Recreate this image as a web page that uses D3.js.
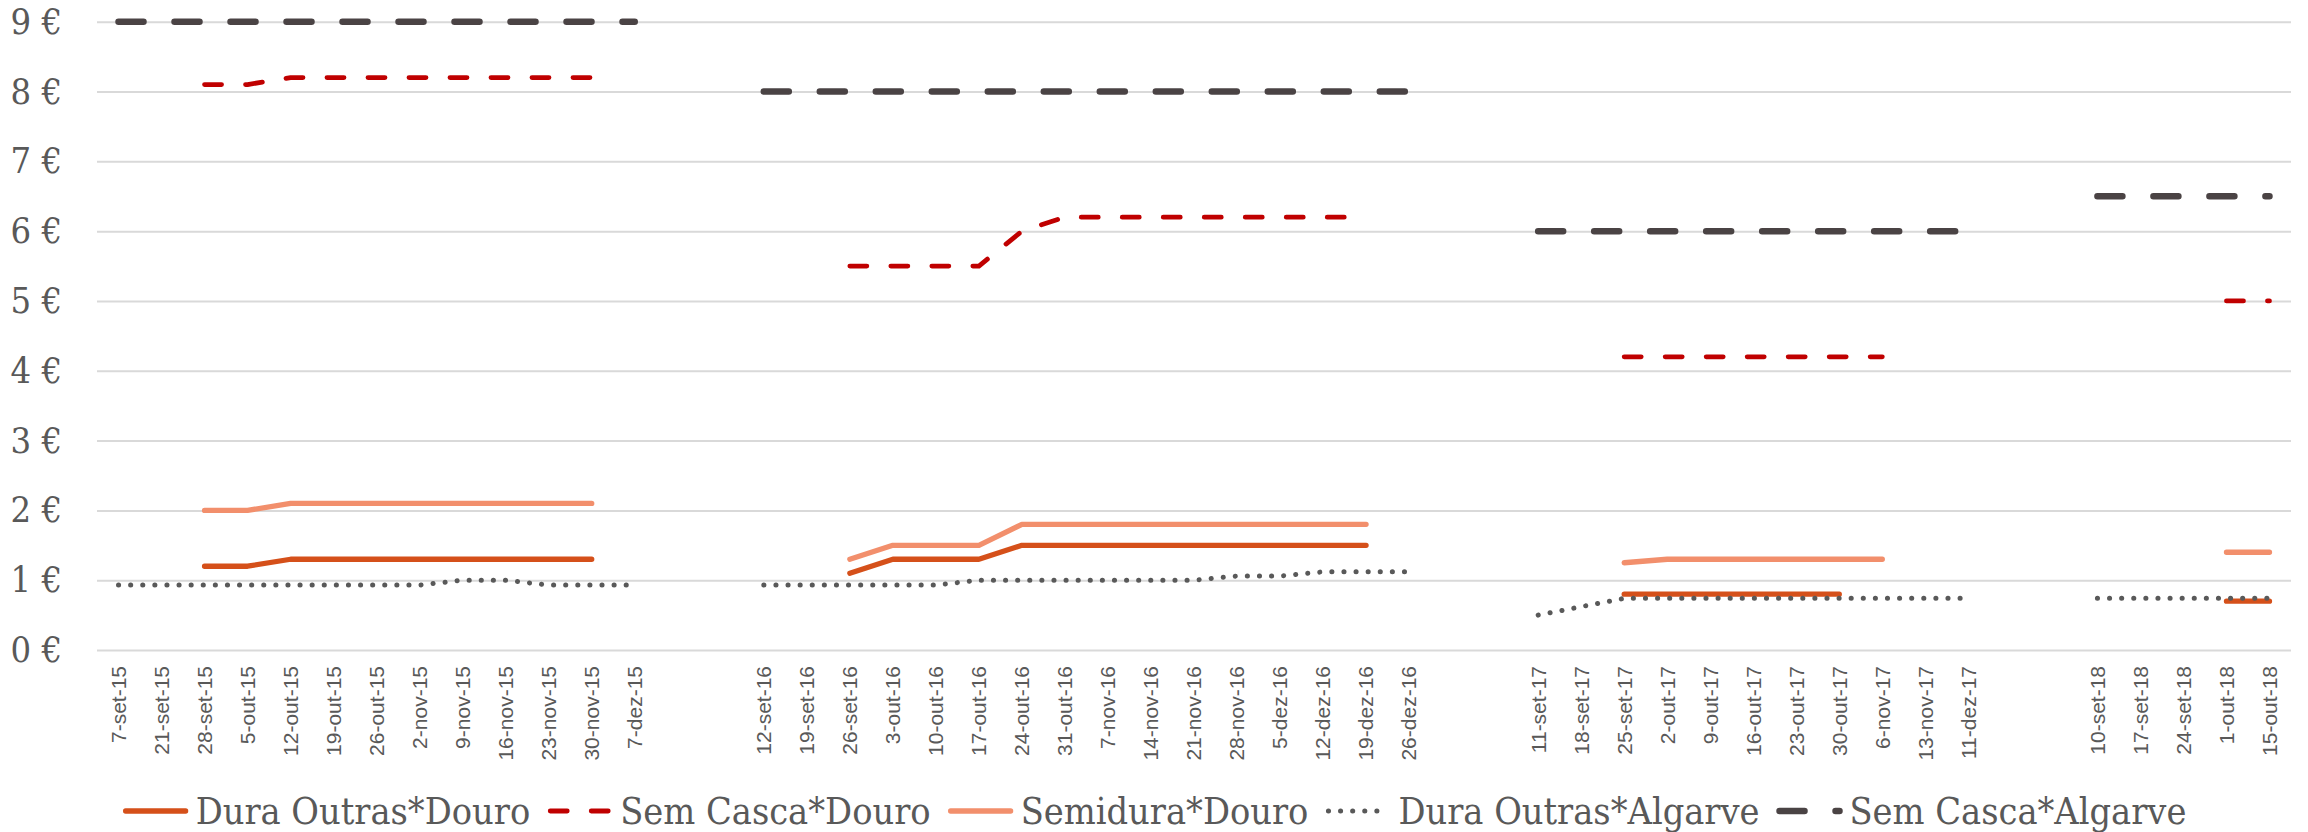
<!DOCTYPE html>
<html>
<head>
<meta charset="utf-8">
<script src="https://cdnjs.cloudflare.com/ajax/libs/d3/7.8.5/d3.min.js"></script>
<style>
    body { margin: 0; background: #fff; }
    .y-axis text, .legend text { font-family: "DejaVu Serif Condensed", "DejaVu Serif", serif; fill: #595959; }
    .x-axis text { font-family: "Liberation Sans", Arial, sans-serif; fill: #595959; }
</style>
</head>
<body>
<div id="chart"></div>
<script>

// weekly categories, "" = empty slots between seasons
var weeks = [
    "7-set-15", "21-set-15", "28-set-15", "5-out-15", "12-out-15", "19-out-15", "26-out-15",
    "2-nov-15", "9-nov-15", "16-nov-15", "23-nov-15", "30-nov-15", "7-dez-15",
    "", "",
    "12-set-16", "19-set-16", "26-set-16", "3-out-16", "10-out-16", "17-out-16", "24-out-16",
    "31-out-16", "7-nov-16", "14-nov-16", "21-nov-16", "28-nov-16", "5-dez-16", "12-dez-16",
    "19-dez-16", "26-dez-16",
    "", "",
    "11-set-17", "18-set-17", "25-set-17", "2-out-17", "9-out-17", "16-out-17", "23-out-17",
    "30-out-17", "6-nov-17", "13-nov-17", "11-dez-17",
    "", "",
    "10-set-18", "17-set-18", "24-set-18", "1-out-18", "15-out-18"
];

var dura_outras_douro = [
    null, null, 1.2, 1.2, 1.3, 1.3, 1.3, 1.3, 1.3, 1.3, 1.3, 1.3, null,
    null, null,
    null, null, 1.1, 1.3, 1.3, 1.3, 1.5, 1.5, 1.5, 1.5, 1.5, 1.5, 1.5, 1.5, 1.5, null,
    null, null,
    null, null, 0.8, 0.8, 0.8, 0.8, 0.8, 0.8, null, null, null,
    null, null,
    null, null, null, 0.7, 0.7
];

var sem_casca_douro = [
    null, null, 8.1, 8.1, 8.2, 8.2, 8.2, 8.2, 8.2, 8.2, 8.2, 8.2, null,
    null, null,
    null, null, 5.5, 5.5, 5.5, 5.5, 6.0, 6.2, 6.2, 6.2, 6.2, 6.2, 6.2, 6.2, 6.2, null,
    null, null,
    null, null, 4.2, 4.2, 4.2, 4.2, 4.2, 4.2, 4.2, null, null,
    null, null,
    null, null, null, 5.0, 5.0
];

var semidura_douro = [
    null, null, 2.0, 2.0, 2.1, 2.1, 2.1, 2.1, 2.1, 2.1, 2.1, 2.1, null,
    null, null,
    null, null, 1.3, 1.5, 1.5, 1.5, 1.8, 1.8, 1.8, 1.8, 1.8, 1.8, 1.8, 1.8, 1.8, null,
    null, null,
    null, null, 1.25, 1.3, 1.3, 1.3, 1.3, 1.3, 1.3, null, null,
    null, null,
    null, null, null, 1.4, 1.4
];

var dura_outras_algarve = [
    0.93, 0.93, 0.93, 0.93, 0.93, 0.93, 0.93, 0.93, 1.0, 1.0, 0.93, 0.93, 0.93,
    null, null,
    0.93, 0.93, 0.93, 0.93, 0.93, 1.0, 1.0, 1.0, 1.0, 1.0, 1.0, 1.06, 1.06, 1.12, 1.12, 1.12,
    null, null,
    0.5, 0.62, 0.74, 0.74, 0.74, 0.74, 0.74, 0.74, 0.74, 0.74, 0.74,
    null, null,
    0.74, 0.74, 0.74, 0.74, 0.74
];

var sem_casca_algarve = [
    9, 9, 9, 9, 9, 9, 9, 9, 9, 9, 9, 9, 9,
    null, null,
    8, 8, 8, 8, 8, 8, 8, 8, 8, 8, 8, 8, 8, 8, 8, 8,
    null, null,
    6, 6, 6, 6, 6, 6, 6, 6, 6, 6, 6,
    null, null,
    6.5, 6.5, 6.5, 6.5, 6.5
];

var y_ticks = [0, 1, 2, 3, 4, 5, 6, 7, 8, 9];

var series = [
    {name: "Dura Outras*Douro", values: dura_outras_douro, color: "#D5501A", width: 5.3, dash: null},
    {name: "Sem Casca*Douro", values: sem_casca_douro, color: "#C00000", width: 4.8, dash: "17,24"},
    {name: "Semidura*Douro", values: semidura_douro, color: "#F28F6C", width: 5.3, dash: null},
    {name: "Dura Outras*Algarve", values: dura_outras_algarve, color: "#595959", width: 5, dash: "0.1,12"},
    {name: "Sem Casca*Algarve", values: sem_casca_algarve, color: "#4A4344", width: 6.5, dash: "25,31"}
];

var W = 2308, H = 832;
var plot = {left: 97, right: 2291, top: 21.7, bottom: 650};

var svg = d3.select("#chart")
    .append("svg")
    .attr("width", W)
    .attr("height", H);

var xScale = d3.scaleBand()
    .domain(d3.range(weeks.length))
    .range([plot.left, plot.right]);

var yScale = d3.scaleLinear()
    .domain([0, 9])
    .range([plot.bottom, plot.top]);

// gridlines + y labels
svg.append("g")
    .attr("class", "y-axis")
    .attr("transform", "translate(" + plot.left + ",0)")
    .call(d3.axisLeft(yScale)
        .tickValues(y_ticks)
        .tickSize(-(plot.right - plot.left))
        .tickPadding(35)
        .tickFormat(function (d) { return d + " €"; }))
    .call(function (g) { g.select(".domain").remove(); })
    .call(function (g) {
        g.selectAll("line").attr("stroke", "#D9D9D9").attr("stroke-width", 2);
        g.selectAll("text").style("font-size", "36px");
    });

// x labels
svg.append("g")
    .attr("class", "x-axis")
    .attr("transform", "translate(0," + plot.bottom + ")")
    .call(d3.axisBottom(xScale)
        .tickSize(0)
        .tickFormat(function (i) { return weeks[i]; }))
    .call(function (g) { g.select(".domain").remove(); })
    .selectAll("text")
    .attr("transform", "rotate(-90)")
    .attr("text-anchor", "end")
    .attr("x", -16)
    .attr("y", 0)
    .attr("dy", "0.35em")
    .style("font-size", "21px");

var line = d3.line()
    .defined(function (d) { return d != null; })
    .x(function (d, i) { return xScale(i) + xScale.bandwidth() / 2; })
    .y(function (d) { return yScale(d); });

svg.selectAll("path.series")
    .data(series)
    .enter()
    .append("path")
    .attr("class", "series")
    .attr("d", function (d) { return line(d.values); })
    .attr("fill", "none")
    .attr("stroke", function (d) { return d.color; })
    .attr("stroke-width", function (d) { return d.width; })
    .attr("stroke-dasharray", function (d) { return d.dash; })
    .attr("stroke-linecap", "round")
    .attr("stroke-linejoin", "round");

// legend
var sample_len = 68, legend_y = 811;
var legend = svg.append("g").attr("class", "legend");

var items = legend.selectAll("g.item")
    .data(series)
    .enter()
    .append("g")
    .attr("class", "item");

items.append("line")
    .attr("x1", 4)
    .attr("x2", sample_len - 4)
    .attr("y1", 0)
    .attr("y2", 0)
    .attr("stroke", function (d) { return d.color; })
    .attr("stroke-width", function (d) { return d.width; })
    .attr("stroke-dasharray", function (d) { return d.dash; })
    .attr("stroke-linecap", "round");

items.append("text")
    .attr("x", sample_len + 6)
    .attr("dy", "0.35em")
    .style("font-size", "37.5px")
    .text(function (d) { return d.name; });

var offsets = [], total = 0;
items.each(function () {
    var w = sample_len + 6 + d3.select(this).select("text").node().getComputedTextLength();
    offsets.push(total);
    total += w + 16;
});
total -= 16;

items.attr("transform", function (d, i) {
    return "translate(" + ((W - total) / 2 + offsets[i]) + "," + legend_y + ")";
});

</script>
</body>
</html>
